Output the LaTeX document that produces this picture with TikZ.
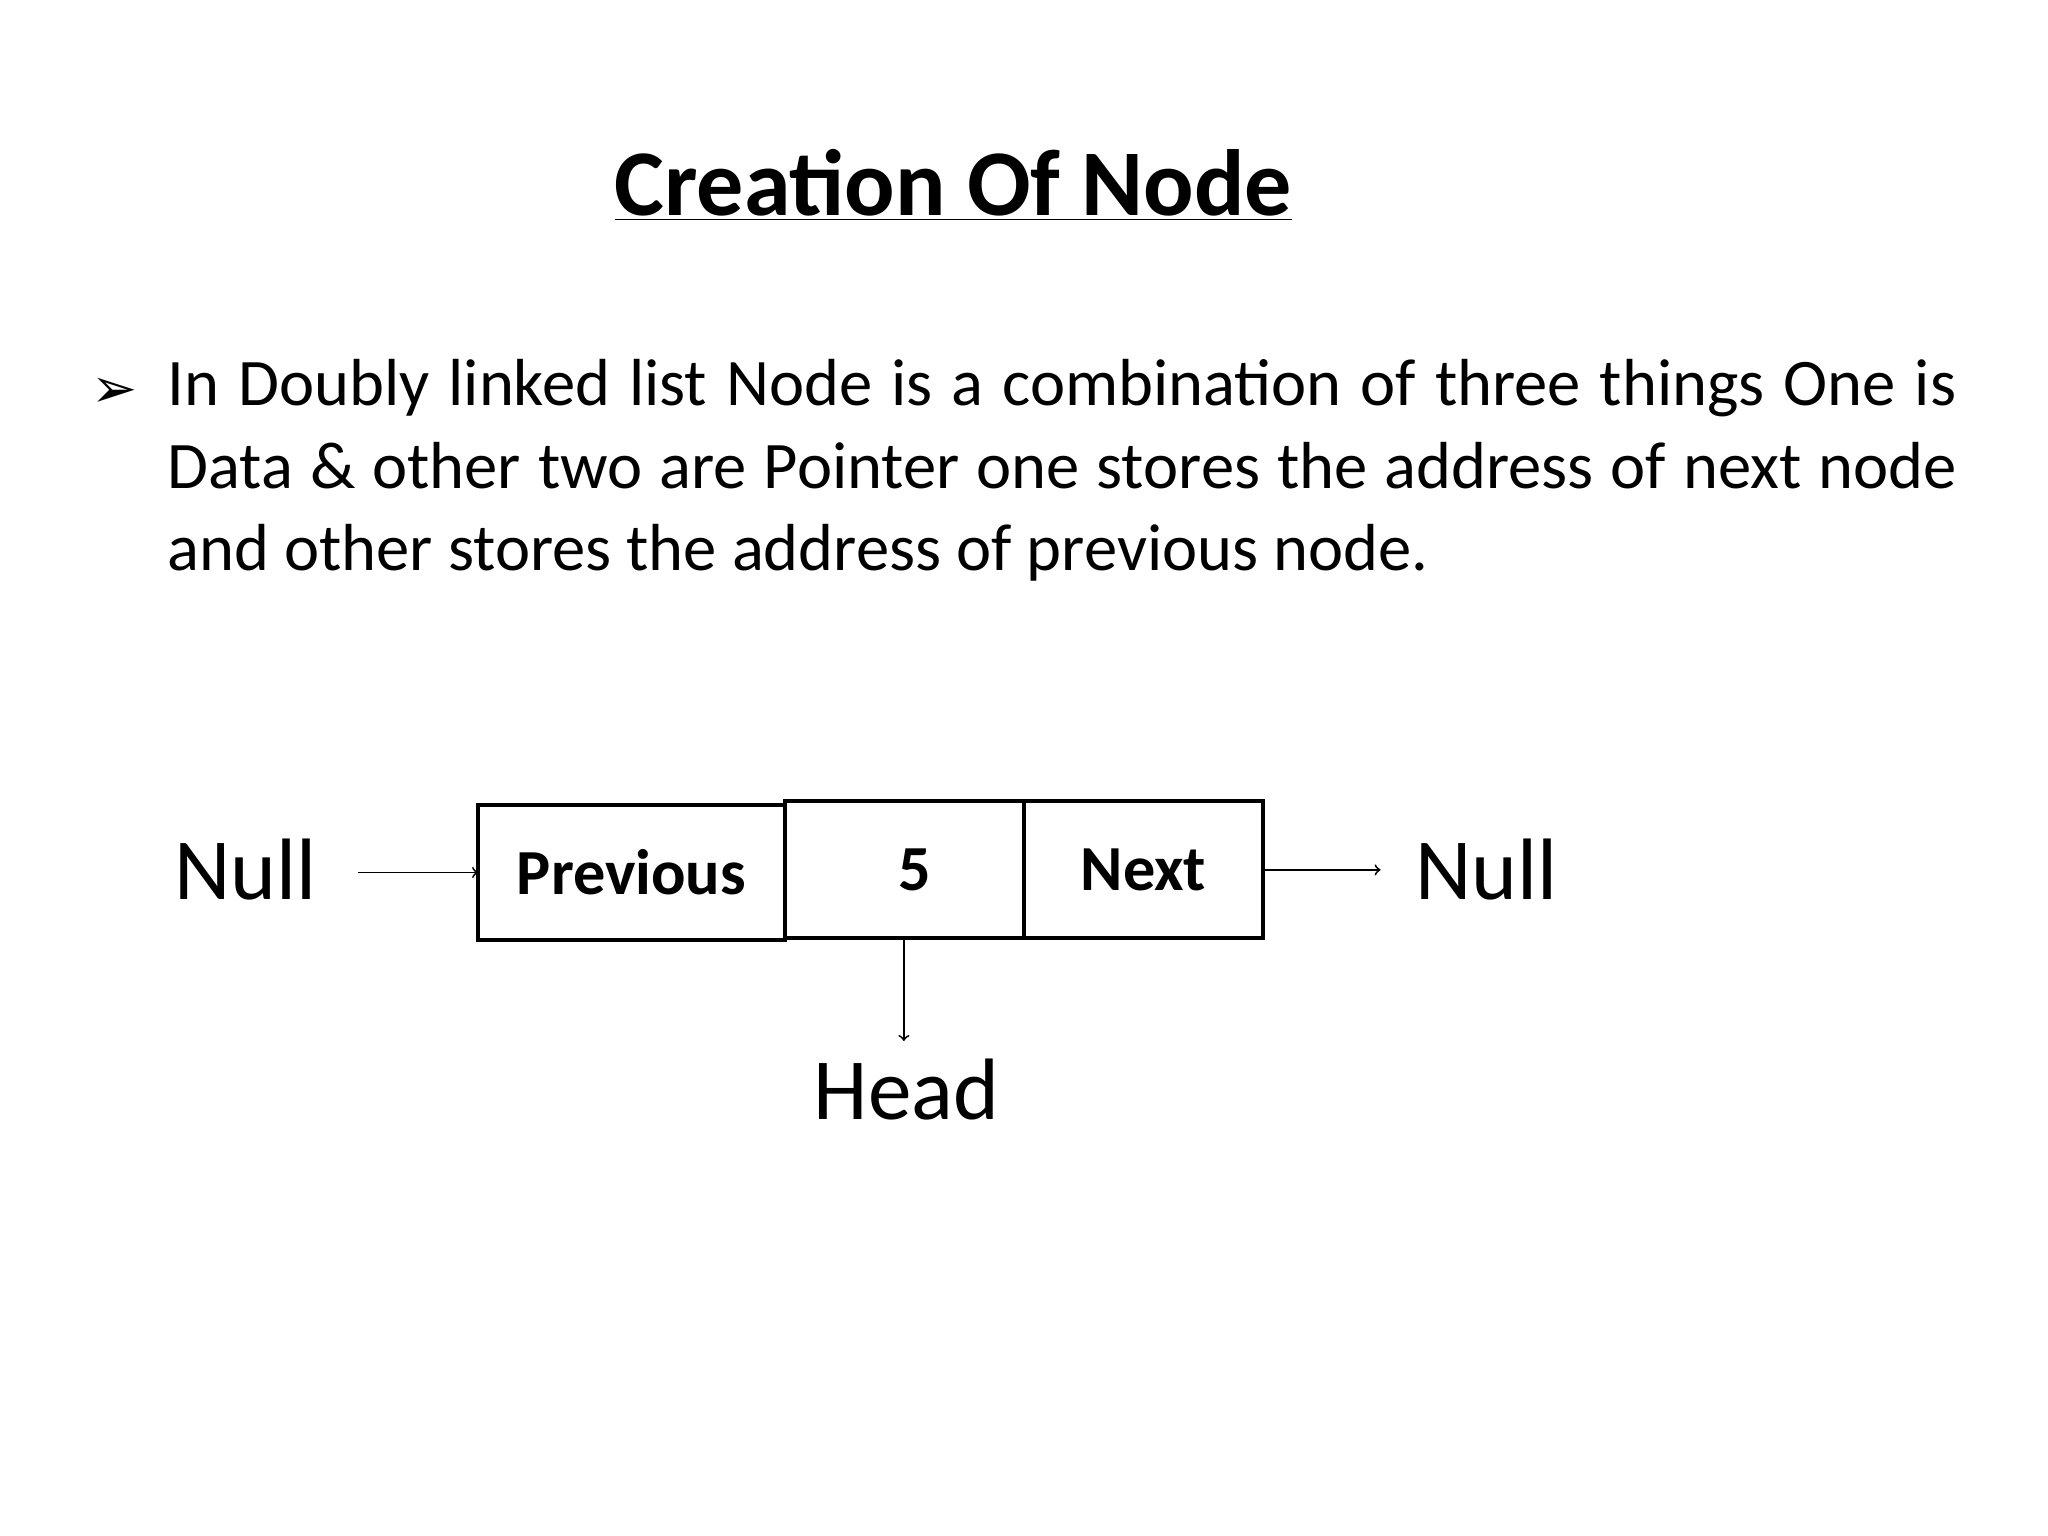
\documentclass[tikz,border=0pt]{standalone}
\usepackage{fontspec}
\setmainfont{Carlito}
\newfontfamily\symfont{DejaVu Sans}
\begin{document}
\begin{tikzpicture}[x=0.02cm,y=-0.02cm,
  cell/.style={draw,line width=1.7pt,inner sep=0pt},
  arr/.style={->,line width=0.8pt},
  big/.style={font=\fontsize{38}{44}\selectfont,inner sep=0pt}]
\useasboundingbox (0,0) rectangle (1568,1176);
\node[inner sep=0pt,anchor=base,font=\bfseries\fontsize{41}{48}\selectfont] (title) at (730,165) {\underline{Creation Of Node}};
\node[inner sep=0pt,anchor=base west,font=\symfont\fontsize{24}{28}\selectfont] (bul) at (70,312) {➢};
\node[inner sep=0pt,anchor=north west,text width=27.4cm,align=justify,font=\fontsize{29}{35.9}\selectfont] (para) at (128,275)
 {In Doubly linked list Node is a combination of three things One is Data \& other two are Pointer one stores the address of next node and other stores the address of previous node.};
\draw[cell] (366,616) rectangle (601,720);
\draw[cell] (601,613) rectangle (784,718);
\draw[cell] (784,613) rectangle (967,718);
\node[inner sep=0pt,font=\bfseries\fontsize{28}{32}\selectfont] (prev) at (483.5,668) {Previous};
\node[inner sep=0pt,font=\bfseries\fontsize{28}{32}\selectfont] (data) at (700,666) {5};
\node[inner sep=0pt,font=\bfseries\fontsize{28}{32}\selectfont] (next) at (875.5,666) {Next};
\node[big] (nl) at (188,666) {Null};
\node[big] (nr) at (1138,666) {Null};
\node[big] (head) at (694,834) {Head};
\coordinate (a1) at (274,668); \coordinate (a2) at (366,668);
\coordinate (b1) at (967,666); \coordinate (b2) at (1057,666);
\coordinate (c1) at (692,718); \coordinate (c2) at (692,797);
\draw[arr] (a1) -- (a2);
\draw[arr] (b1) -- (b2);
\draw[arr] (c1) -- (c2);
\end{tikzpicture}
\end{document}
